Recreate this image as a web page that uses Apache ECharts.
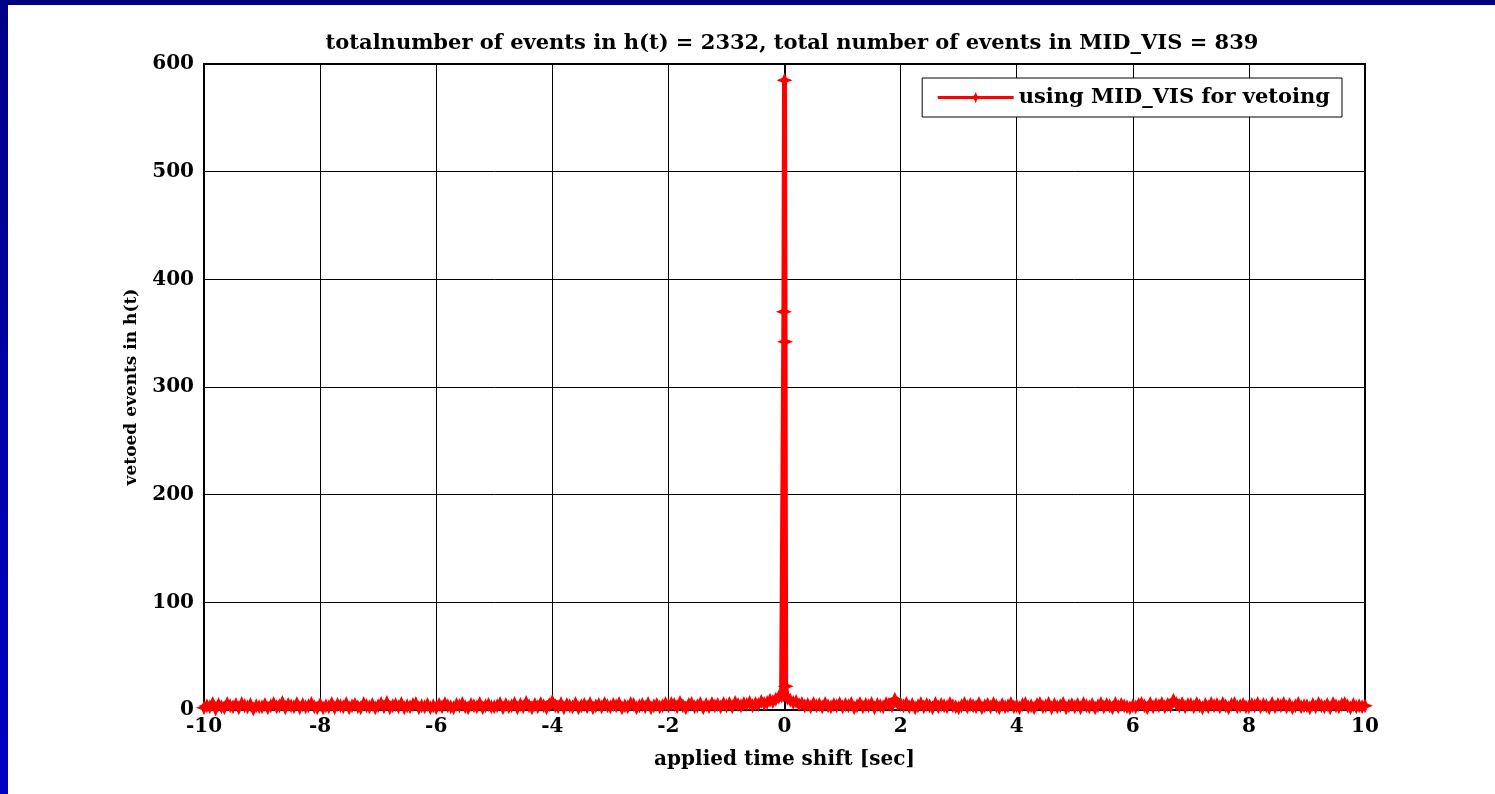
<!DOCTYPE html>
<html>
<head>
<meta charset="utf-8">
<script src="https://cdn.jsdelivr.net/npm/echarts@6/dist/echarts.min.js"></script>
<style>
  html, body { margin: 0; padding: 0; background: #fff; }
  #chart { width: 1495px; height: 794px; position: absolute; left: 0; top: 0; }
  #topbar { position: absolute; left: 0; top: 0; width: 1495px; height: 5px; background: #000080; z-index: 5; }
  #leftbar { position: absolute; left: 0; top: 0; width: 8px; height: 794px; background: linear-gradient(#000088, #0000c4); z-index: 5; }
</style>
</head>
<body>
<div id="chart"></div>
<div id="topbar"></div>
<div id="leftbar"></div>
<script>
// ---- data ----
const titleText = 'totalnumber of events in h(t) = 2332, total number of events in MID_VIS = 839';
const seriesName = 'using MID_VIS for vetoing';
const xAxisName = 'applied time shift [sec]';
const yAxisName = 'vetoed events in h(t)';

// time shift grid: -10 .. 10 sec, step 0.05 sec (one row = 1 sec)
const shiftStart = -10;
const shiftStep = 0.05;
const vetoedCounts = [
  2,4,3,6,1,5,3,2,6,4, 3,5,2,6,4,3,5,1,4,3,
  3,5,2,4,6,3,4,7,2,5, 4,3,6,2,5,3,4,6,3,2,
  5,2,4,3,6,2,5,4,3,6, 2,4,5,3,2,6,4,3,5,2,
  4,6,3,7,2,4,5,3,6,2, 4,3,5,6,2,4,3,5,2,4,
  2,5,3,6,4,3,2,5,4,6, 3,2,5,4,3,6,2,4,5,3,
  3,4,6,2,5,3,4,6,2,5, 3,7,4,2,5,3,6,4,2,5,
  8,4,3,6,2,5,4,3,6,2, 4,5,3,6,2,4,5,3,6,4,
  3,5,4,6,2,4,3,6,5,2, 4,5,3,6,2,4,5,3,4,6,
  4,6,5,3,7,4,2,5,6,3, 4,6,2,5,3,6,4,5,3,6,
  4,6,3,7,5,4,6,5,7,4, 6,5,8,6,7,9,8,10,12,13,
  585,11,9,7,8,5,6,4,5,3, 6,4,5,3,6,4,3,5,4,6,
  3,5,4,6,2,4,6,3,5,4, 6,2,5,4,3,6,5,4,10,6,
  5,4,6,3,5,2,4,6,3,5, 4,2,6,3,5,4,3,6,4,3,
  2,4,6,3,5,4,3,6,2,4, 5,3,6,4,2,5,3,4,6,3,
  4,2,5,6,3,4,2,5,6,3, 4,6,2,5,3,4,6,2,4,5,
  3,5,2,6,4,3,5,2,4,6, 3,5,4,2,6,3,5,4,3,2,
  4,3,5,6,4,2,6,3,5,4, 6,3,5,4,9,6,4,6,3,5,
  5,3,6,4,2,5,3,6,4,5, 3,6,4,2,5,6,3,4,5,3,
  3,5,4,6,3,5,4,2,6,3, 5,4,6,3,5,2,4,6,3,4,
  4,2,5,3,6,4,3,5,2,6, 4,3,5,6,4,2,5,3,4,3,
  4
];
// extra fine-resolution points around zero shift
const peakShifts = [-0.02, -0.01, 0.01, 0.02];
const peakCounts = [14, 370, 342, 22];

const xTicks = { min: -10, max: 10, interval: 2 };
const yTicks = { min: 0, max: 600, interval: 100 };

// ---- build ----
const pts = vetoedCounts.map((v, i) => [Math.round((shiftStart + i * shiftStep) * 100) / 100, v]);
peakShifts.forEach((s, i) => pts.push([s, peakCounts[i]]));
pts.sort((a, b) => a[0] - b[0]);

const font = 'DejaVu Serif';
const starPath = 'path://M0,-10 L3,-3 L10,0 L3,3 L0,10 L-3,3 L-10,0 L-3,-3 Z';

const chart = echarts.init(document.getElementById('chart'), null, { renderer: 'canvas' });
chart.setOption({
  animation: false,
  backgroundColor: '#ffffff',
  title: {
    text: titleText,
    left: 787, top: 28, textAlign: 'center',
    textStyle: { fontFamily: font, fontWeight: 'bold', fontSize: 21, color: '#000' }
  },
  legend: {
    right: 153, top: 78,
    orient: 'vertical',
    backgroundColor: '#fff',
    borderColor: '#000', borderWidth: 1,
    borderRadius: 0,
    padding: [9, 12, 9, 14],
    itemWidth: 76, itemHeight: 14, itemGap: 0,
    lineStyle: { width: 3 },
    textStyle: { fontFamily: font, fontWeight: 'bold', fontSize: 21, color: '#000' },
    data: [{ name: seriesName }]
  },
  grid: {
    left: 204, right: 130, top: 64, bottom: 84,
    show: true, borderColor: '#000', borderWidth: 2, backgroundColor: '#fff'
  },
  xAxis: {
    type: 'value',
    min: xTicks.min, max: xTicks.max, interval: xTicks.interval,
    name: xAxisName, nameLocation: 'middle', nameGap: 40,
    nameTextStyle: { fontFamily: font, fontWeight: 'bold', fontSize: 20, color: '#000' },
    axisLine: { show: true, lineStyle: { color: '#000', width: 2 } },
    axisTick: { show: false },
    axisLabel: { fontFamily: font, fontWeight: 'bold', fontSize: 20, color: '#000', margin: 7 },
    splitLine: { show: true, lineStyle: { color: '#000', width: 1 } }
  },
  yAxis: {
    type: 'value',
    min: yTicks.min, max: yTicks.max, interval: yTicks.interval,
    name: yAxisName, nameLocation: 'middle', nameGap: 64, nameRotate: 90,
    nameTextStyle: { fontFamily: font, fontWeight: 'bold', fontSize: 17, color: '#000' },
    axisLine: { show: true, lineStyle: { color: '#000', width: 2 } },
    axisTick: { show: false },
    axisLabel: { fontFamily: font, fontWeight: 'bold', fontSize: 20, color: '#000', margin: 10 },
    splitLine: { show: true, lineStyle: { color: '#000', width: 1 } }
  },
  series: [{
    name: seriesName,
    type: 'line',
    data: pts,
    color: '#ff0000',
    lineStyle: { color: '#ff0000', width: 5 },
    itemStyle: { color: '#ff0000' },
    symbol: starPath,
    symbolSize: [16, 15],
    showAllSymbol: true,
    z: 3
  }]
});
</script>
</body>
</html>
